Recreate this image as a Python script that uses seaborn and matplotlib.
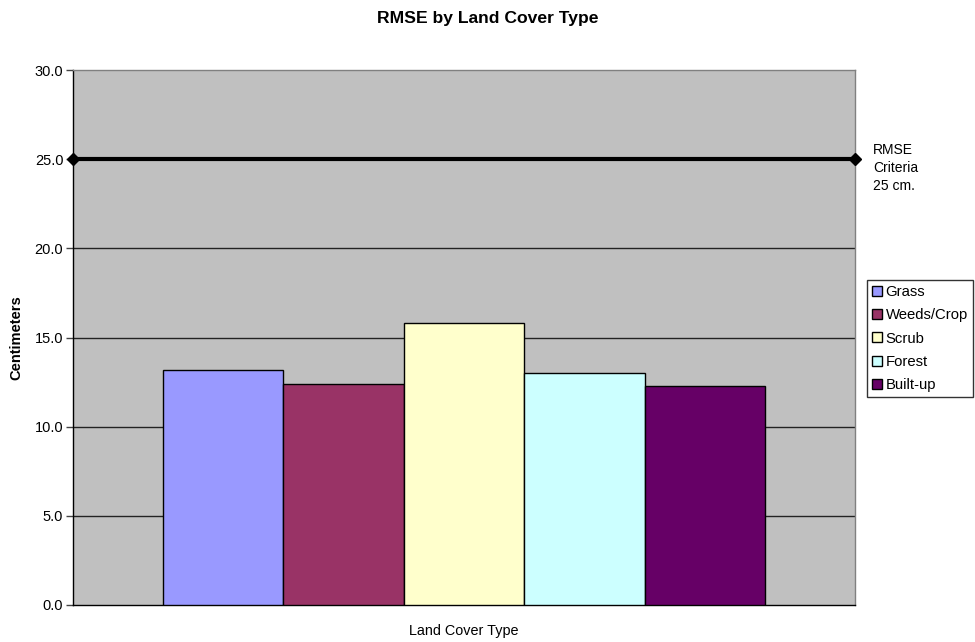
import matplotlib
matplotlib.use("Agg")
import matplotlib.pyplot as plt
import seaborn as sns
import pandas as pd

# Land cover classes and their RMSE (cm)
cover_types = ["Grass", "Weeds/Crop", "Scrub", "Forest", "Built-up"]
rmse_cm = [13.2, 12.4, 15.8, 13.0, 12.3]
bar_colors = ["#9999FF", "#993366", "#FFFFCC", "#CCFFFF", "#660066"]
criteria_cm = 25.0
y_ticks = [0, 5, 10, 15, 20, 25, 30]

sns.set_theme(style="white")
plt.rcParams["font.family"] = ["Liberation Sans", "DejaVu Sans"]
plt.rcParams["text.color"] = "black"
plt.rcParams["axes.labelcolor"] = "black"
plt.rcParams["ytick.color"] = "black"

df = pd.DataFrame({
    "group": ["Land Cover Type"] * len(cover_types),
    "cover": cover_types,
    "rmse": rmse_cm,
})

fig = plt.figure(figsize=(9.75, 6.42), dpi=100)
ax = fig.add_axes([73 / 975, 1 - 605 / 642, (855 - 73) / 975, (605 - 70) / 642])
ax.set_facecolor("#C0C0C0")

sns.barplot(data=df, x="group", y="rmse", hue="cover", hue_order=cover_types,
            palette=bar_colors, width=0.77, edgecolor="black", linewidth=1,
            saturation=1, ax=ax, zorder=3)

# horizontal gridlines
ax.set_ylim(0, 30)
ax.set_yticks(y_ticks)
ax.set_yticklabels([f"{v:.1f}" for v in y_ticks], fontsize=10.5)
for v in y_ticks[1:-1]:
    ax.axhline(v, color="#222222", lw=1, zorder=1)
ax.set_xlim(-0.5, 0.5)
ax.set_xticks([])
ax.tick_params(axis="y", left=True, length=5, width=1, color="#444444", pad=2)

for side in ["top", "right"]:
    ax.spines[side].set_color("#808080")
    ax.spines[side].set_linewidth(1)
for side in ["left", "bottom"]:
    ax.spines[side].set_color("black")
    ax.spines[side].set_linewidth(1)

# criteria line across the full width
ax.plot([-0.5, 0.5], [criteria_cm, criteria_cm], color="black", lw=3,
        marker="D", markersize=6, clip_on=False, zorder=5)

ax.set_xlabel("Land Cover Type", fontsize=10.4, labelpad=13.5)
ax.set_ylabel("Centimeters", fontsize=10.5, fontweight="bold", labelpad=8)

fig.text(0.5, 1 - 18 / 642, "RMSE by Land Cover Type", ha="center", va="center",
         fontsize=12.6, fontweight="bold")
fig.text(873 / 975, 1 - 143 / 642, "RMSE\nCriteria\n25 cm.", ha="left", va="top",
         fontsize=10, linespacing=1.38)

ax.legend_.remove()
handles = [plt.Rectangle((0, 0), 1, 1, facecolor=c, edgecolor="black", lw=1)
           for c in bar_colors]
leg = fig.legend(handles, cover_types, loc="upper left",
                 bbox_to_anchor=(867 / 975, 1 - 280 / 642),
                 bbox_transform=fig.transFigure, fontsize=10.7, frameon=True,
                 fancybox=False, borderaxespad=0, handlelength=0.65,
                 handleheight=0.65, handletextpad=0.25, borderpad=0.35,
                 labelspacing=0.62)
leg.get_frame().set_edgecolor("black")
leg.get_frame().set_linewidth(1)

fig.savefig("out.png", dpi=100, facecolor="white")
